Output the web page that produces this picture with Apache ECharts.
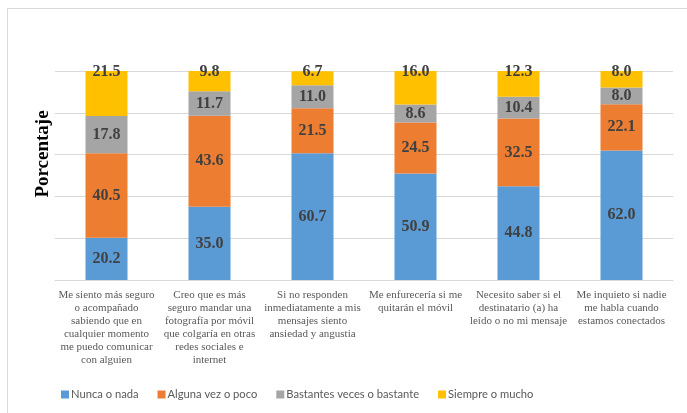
<!DOCTYPE html>
<html>
<head>
<meta charset="utf-8">
<script src="https://cdn.jsdelivr.net/npm/echarts@6/dist/echarts.min.js"></script>
<style>
  html, body { margin: 0; padding: 0; background: #fff; }
  #frame { position: absolute; left: 7px; top: 8px; width: 700px; height: 420px; border: 1px solid #d9d9d9; box-sizing: border-box; }
  #chart { position: absolute; left: 0; top: 0; width: 687px; height: 413px; }
</style>
</head>
<body>
<div id="frame"></div>
<div id="chart"></div>
<script>
  // categorias (con los saltos de linea del original)
  var categories = [
    'Me siento más seguro\no acompañado\nsabiendo que en\ncualquier momento\nme puedo comunicar\ncon alguien',
    'Creo que es más\nseguro mandar una\nfotografía por móvil\nque colgaría en otras\nredes sociales e\ninternet',
    'Si no responden\ninmediatamente a mis\nmensajes siento\nansiedad y angustia',
    'Me enfurecería si me\nquitarán el móvil',
    'Necesito saber si el\ndestinatario (a) ha\nleído o no mi mensaje',
    'Me inquieto si nadie\nme habla cuando\nestamos conectados'
  ];
  var seriesNames = ['Nunca o nada', 'Alguna vez o poco', 'Bastantes veces o bastante', 'Siempre o mucho'];
  var nunca = [20.2, 35.0, 60.7, 50.9, 44.8, 62.0];
  var alguna = [40.5, 43.6, 21.5, 24.5, 32.5, 22.1];
  var bastantes = [17.8, 11.7, 11.0, 8.6, 10.4, 8.0];
  var siempre = [21.5, 9.8, 6.7, 16.0, 12.3, 8.0];
  var colors = ['#5b9bd5', '#ed7d31', '#a5a5a5', '#ffc000'];

  var serif = '"Liberation Serif", "DejaVu Serif", serif';
  var chart = echarts.init(document.getElementById('chart'));

  function makeSeries(name, data, color, isTop) {
    return {
      name: name,
      type: 'bar',
      stack: 'total',
      data: data,
      barWidth: 42,
      itemStyle: { color: color },
      label: {
        show: true,
        // la etiqueta de la serie superior queda sobre el borde de arriba
        position: isTop ? 'top' : 'inside',
        distance: isTop ? -9 : 5,
        formatter: function (p) { return p.value.toFixed(1); },
        fontFamily: serif,
        fontWeight: 'bold',
        fontSize: 16,
        color: '#404040'
      },
      emphasis: { disabled: true }
    };
  }

  var option = {
    animation: false,
    color: colors,
    grid: { left: 55, right: 14, top: 71, bottom: 133, containLabel: false },
    legend: {
      data: seriesNames,
      bottom: 8,
      left: 56,
      itemWidth: 8,
      itemHeight: 8,
      itemGap: 19,
      icon: 'rect',
      textStyle: {
        fontFamily: 'Lato, "Noto Sans", sans-serif',
        fontSize: 11.2,
        color: '#595959',
        padding: [0, 0, 0, -3]
      }
    },
    xAxis: {
      type: 'category',
      data: categories,
      axisLine: { show: true, lineStyle: { color: '#d9d9d9' } },
      axisTick: { show: false },
      axisLabel: {
        interval: 0,
        margin: 9,
        fontFamily: serif,
        fontSize: 11,
        lineHeight: 13,
        color: '#595959'
      }
    },
    yAxis: {
      type: 'value',
      min: 0,
      max: 100,
      interval: 20,
      axisLabel: { show: false },
      axisLine: { show: false },
      axisTick: { show: false },
      splitLine: { lineStyle: { color: '#d9d9d9' } }
    },
    graphic: [{
      type: 'text',
      x: 43,
      y: 154,
      rotation: Math.PI / 2,
      style: {
        text: 'Porcentaje',
        font: 'bold 19px ' + serif,
        fill: '#000',
        align: 'center',
        verticalAlign: 'middle'
      }
    }],
    series: [
      makeSeries(seriesNames[0], nunca, colors[0], false),
      makeSeries(seriesNames[1], alguna, colors[1], false),
      makeSeries(seriesNames[2], bastantes, colors[2], false),
      makeSeries(seriesNames[3], siempre, colors[3], true)
    ]
  };
  chart.setOption(option);
</script>
</body>
</html>
